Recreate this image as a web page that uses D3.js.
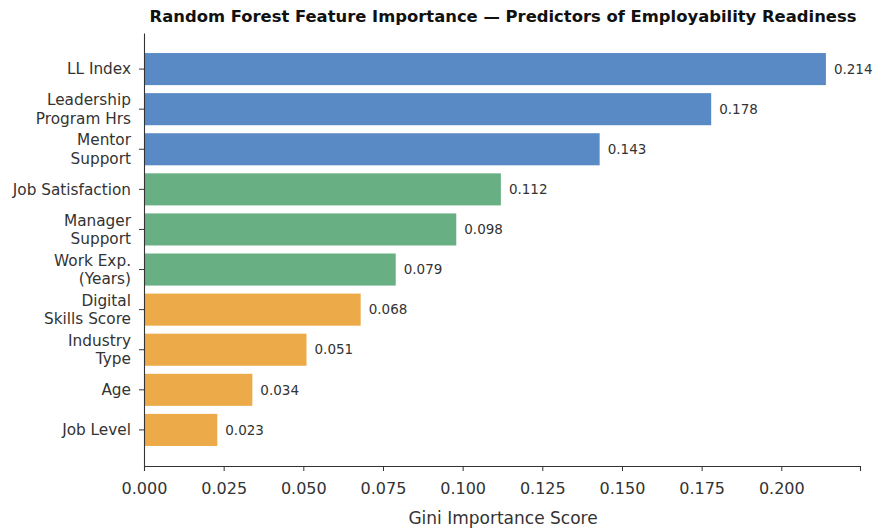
<!DOCTYPE html>
<html>
<head>
<meta charset="utf-8">
<script src="https://cdn.jsdelivr.net/npm/d3@7"></script>
<style>
  html, body { margin: 0; padding: 0; background: #fff; }
  svg { display: block; font-family: "DejaVu Sans", sans-serif; }
</style>
</head>
<body>
<svg id="chart" width="878" height="531"></svg>
<script>
const categories = [
  ["LL Index"],
  ["Leadership", "Program Hrs"],
  ["Mentor", "Support"],
  ["Job Satisfaction"],
  ["Manager", "Support"],
  ["Work Exp.", "(Years)"],
  ["Digital", "Skills Score"],
  ["Industry", "Type"],
  ["Age"],
  ["Job Level"]
];
const importance = [0.214, 0.178, 0.143, 0.112, 0.098, 0.079, 0.068, 0.051, 0.034, 0.023];
const groups = ["a", "a", "a", "b", "b", "b", "c", "c", "c", "c"];
const xTicks = [0, 0.025, 0.05, 0.075, 0.1, 0.125, 0.15, 0.175, 0.2];
const title = "Random Forest Feature Importance — Predictors of Employability Readiness";
const xLabel = "Gini Importance Score";

const colors = { a: "#5a8ac6", b: "#68b084", c: "#ecab48" };

const svg = d3.select("#chart");
const mLeft = 144, mRight = 860, mTop = 33, mBottom = 466;

const keys = categories.map((c, i) => i);
const x = d3.scaleLinear().domain([0, d3.max(importance) * 1.05]).range([mLeft, mRight]);
const y = d3.scaleBand().domain(keys).range([mTop, mBottom]).paddingInner(0.2).paddingOuter(0.5);

// bars
svg.append("g").selectAll("rect").data(keys).join("rect")
  .attr("x", x(0))
  .attr("y", i => y(i))
  .attr("width", i => x(importance[i]) - x(0))
  .attr("height", y.bandwidth())
  .attr("fill", i => colors[groups[i]]);

// value labels
svg.append("g").selectAll("text").data(keys).join("text")
  .attr("x", i => x(importance[i]) + 8)
  .attr("y", i => y(i) + y.bandwidth() / 2)
  .attr("dy", "0.35em")
  .attr("font-size", 13.5)
  .attr("fill", "#333")
  .text(i => importance[i].toFixed(3));

// x axis
const xAxis = d3.axisBottom(x).tickValues(xTicks).tickFormat(d3.format(".3f")).tickSizeOuter(0).tickSize(5).tickPadding(12);
const gx = svg.append("g").attr("transform", `translate(0,${mBottom})`).call(xAxis);
gx.select(".domain").attr("stroke", "#333").attr("stroke-width", 1.1);
gx.selectAll(".tick line").attr("stroke", "#333");
gx.selectAll(".tick text").attr("font-size", 16).attr("fill", "#333").attr("font-family", "DejaVu Sans, sans-serif");

// y axis
const yAxis = d3.axisLeft(y).tickSize(5).tickSizeOuter(0).tickFormat(() => "");
const gy = svg.append("g").attr("transform", `translate(${mLeft},0)`).call(yAxis);
gy.select(".domain").attr("stroke", "#333").attr("stroke-width", 1.1);
gy.selectAll(".tick line").attr("stroke", "#333");
gy.selectAll(".tick").each(function(i) {
  const lines = categories[i];
  const t = d3.select(this).append("text")
    .attr("x", -13)
    .attr("text-anchor", "end")
    .attr("font-size", 15.3)
    .attr("fill", "#333")
    .attr("font-family", "DejaVu Sans, sans-serif");
  const lh = 18.5;
  const off = -(lines.length - 1) * lh / 2;
  lines.forEach((l, k) => {
    t.append("tspan").attr("x", -13).attr("y", off + k * lh).attr("dy", "0.35em").text(l);
  });
});

// title
svg.append("text")
  .attr("x", 503)
  .attr("y", 16)
  .attr("dy", "0.35em")
  .attr("text-anchor", "middle")
  .attr("font-size", 16.4)
  .attr("font-weight", "bold")
  .attr("fill", "#111")
  .text(title);

// x label
svg.append("text")
  .attr("x", 503)
  .attr("y", 518)
  .attr("dy", "0.35em")
  .attr("text-anchor", "middle")
  .attr("font-size", 17)
  .attr("fill", "#333")
  .text(xLabel);
</script>
</body>
</html>
